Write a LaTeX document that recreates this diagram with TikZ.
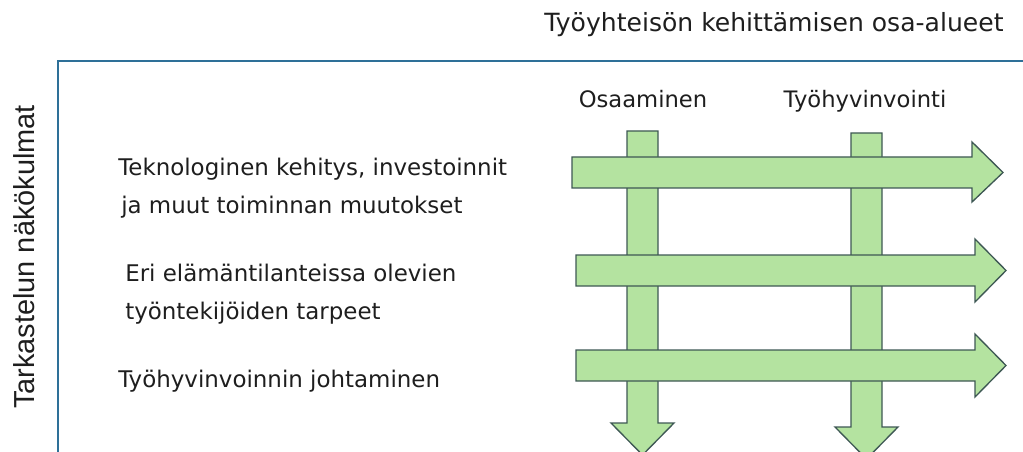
\documentclass[tikz,border=0pt]{standalone}
\usepackage{fontspec}
\setmainfont{Liberation Sans}
\newfontfamily\labelfont{DejaVu Sans}
\definecolor{arrowfill}{RGB}{180,227,160}
\definecolor{arrowline}{RGB}{62,88,84}
\definecolor{axisblue}{RGB}{46,112,152}
\definecolor{textgray}{RGB}{30,30,30}
\begin{document}
\begin{tikzpicture}[x=0.75pt,y=-0.75pt,
  arrowshape/.style={fill=arrowfill,draw=arrowline,line width=1pt,line join=miter},
  axisline/.style={draw=axisblue,line width=1.2pt},
  rowlabel/.style={anchor=base west,inner sep=0pt,text=textgray,font=\labelfont\fontsize{17.2}{20}\selectfont},
  collabel/.style={anchor=base,inner sep=0pt,text=textgray,font=\labelfont\fontsize{17}{20}\selectfont},
  titlelabel/.style={anchor=base,inner sep=0pt,text=textgray,font=\labelfont\fontsize{18.8}{22}\selectfont},
  sidelabel/.style={anchor=base,inner sep=0pt,rotate=90,text=textgray,font=\fontsize{21.7}{24}\selectfont}]
\useasboundingbox (0,0) rectangle (1023,452);
\begin{scope}
\clip (0,0) rectangle (1023,452);
% axes
\draw[axisline] (58,452) -- (58,61) -- (1023,61);
% vertical arrows
\path[arrowshape] (627,131) -- (658,131) -- (658,423) -- (674,423) -- (642.5,455) -- (611,423) -- (627,423) -- cycle;
\path[arrowshape] (851,133) -- (882,133) -- (882,427) -- (898,427) -- (866.5,459) -- (835,427) -- (851,427) -- cycle;
% horizontal arrows
\path[arrowshape] (572,157) -- (972,157) -- (972,142) -- (1003,172.5) -- (972,202) -- (972,188) -- (572,188) -- cycle;
\path[arrowshape] (576,255) -- (975,255) -- (975,239) -- (1006,270.5) -- (975,302) -- (975,286) -- (576,286) -- cycle;
\path[arrowshape] (576,350) -- (975,350) -- (975,334) -- (1006,365.5) -- (975,397) -- (975,381) -- (576,381) -- cycle;
\end{scope}
% texts
\node[titlelabel] (title) at (774,32) {Työyhteisön kehittämisen osa-alueet};
\node[collabel] (osaaminen) at (643,108) {Osaaminen};
\node[collabel] (tyohyv) at (865,108) {Työhyvinvointi};
\node[rowlabel] (r1a) at (118,176) {Teknologinen kehitys, investoinnit};
\node[rowlabel] (r1b) at (121,214) {ja muut toiminnan muutokset};
\node[rowlabel] (r2a) at (125,281) {Eri elämäntilanteissa olevien};
\node[rowlabel] (r2b) at (125,319) {työntekijöiden tarpeet};
\node[rowlabel] (r3) at (118,387) {Työhyvinvoinnin johtaminen};
\node[sidelabel] (side) at (34,257) {Tarkastelun näkökulmat};
\end{tikzpicture}
\end{document}
